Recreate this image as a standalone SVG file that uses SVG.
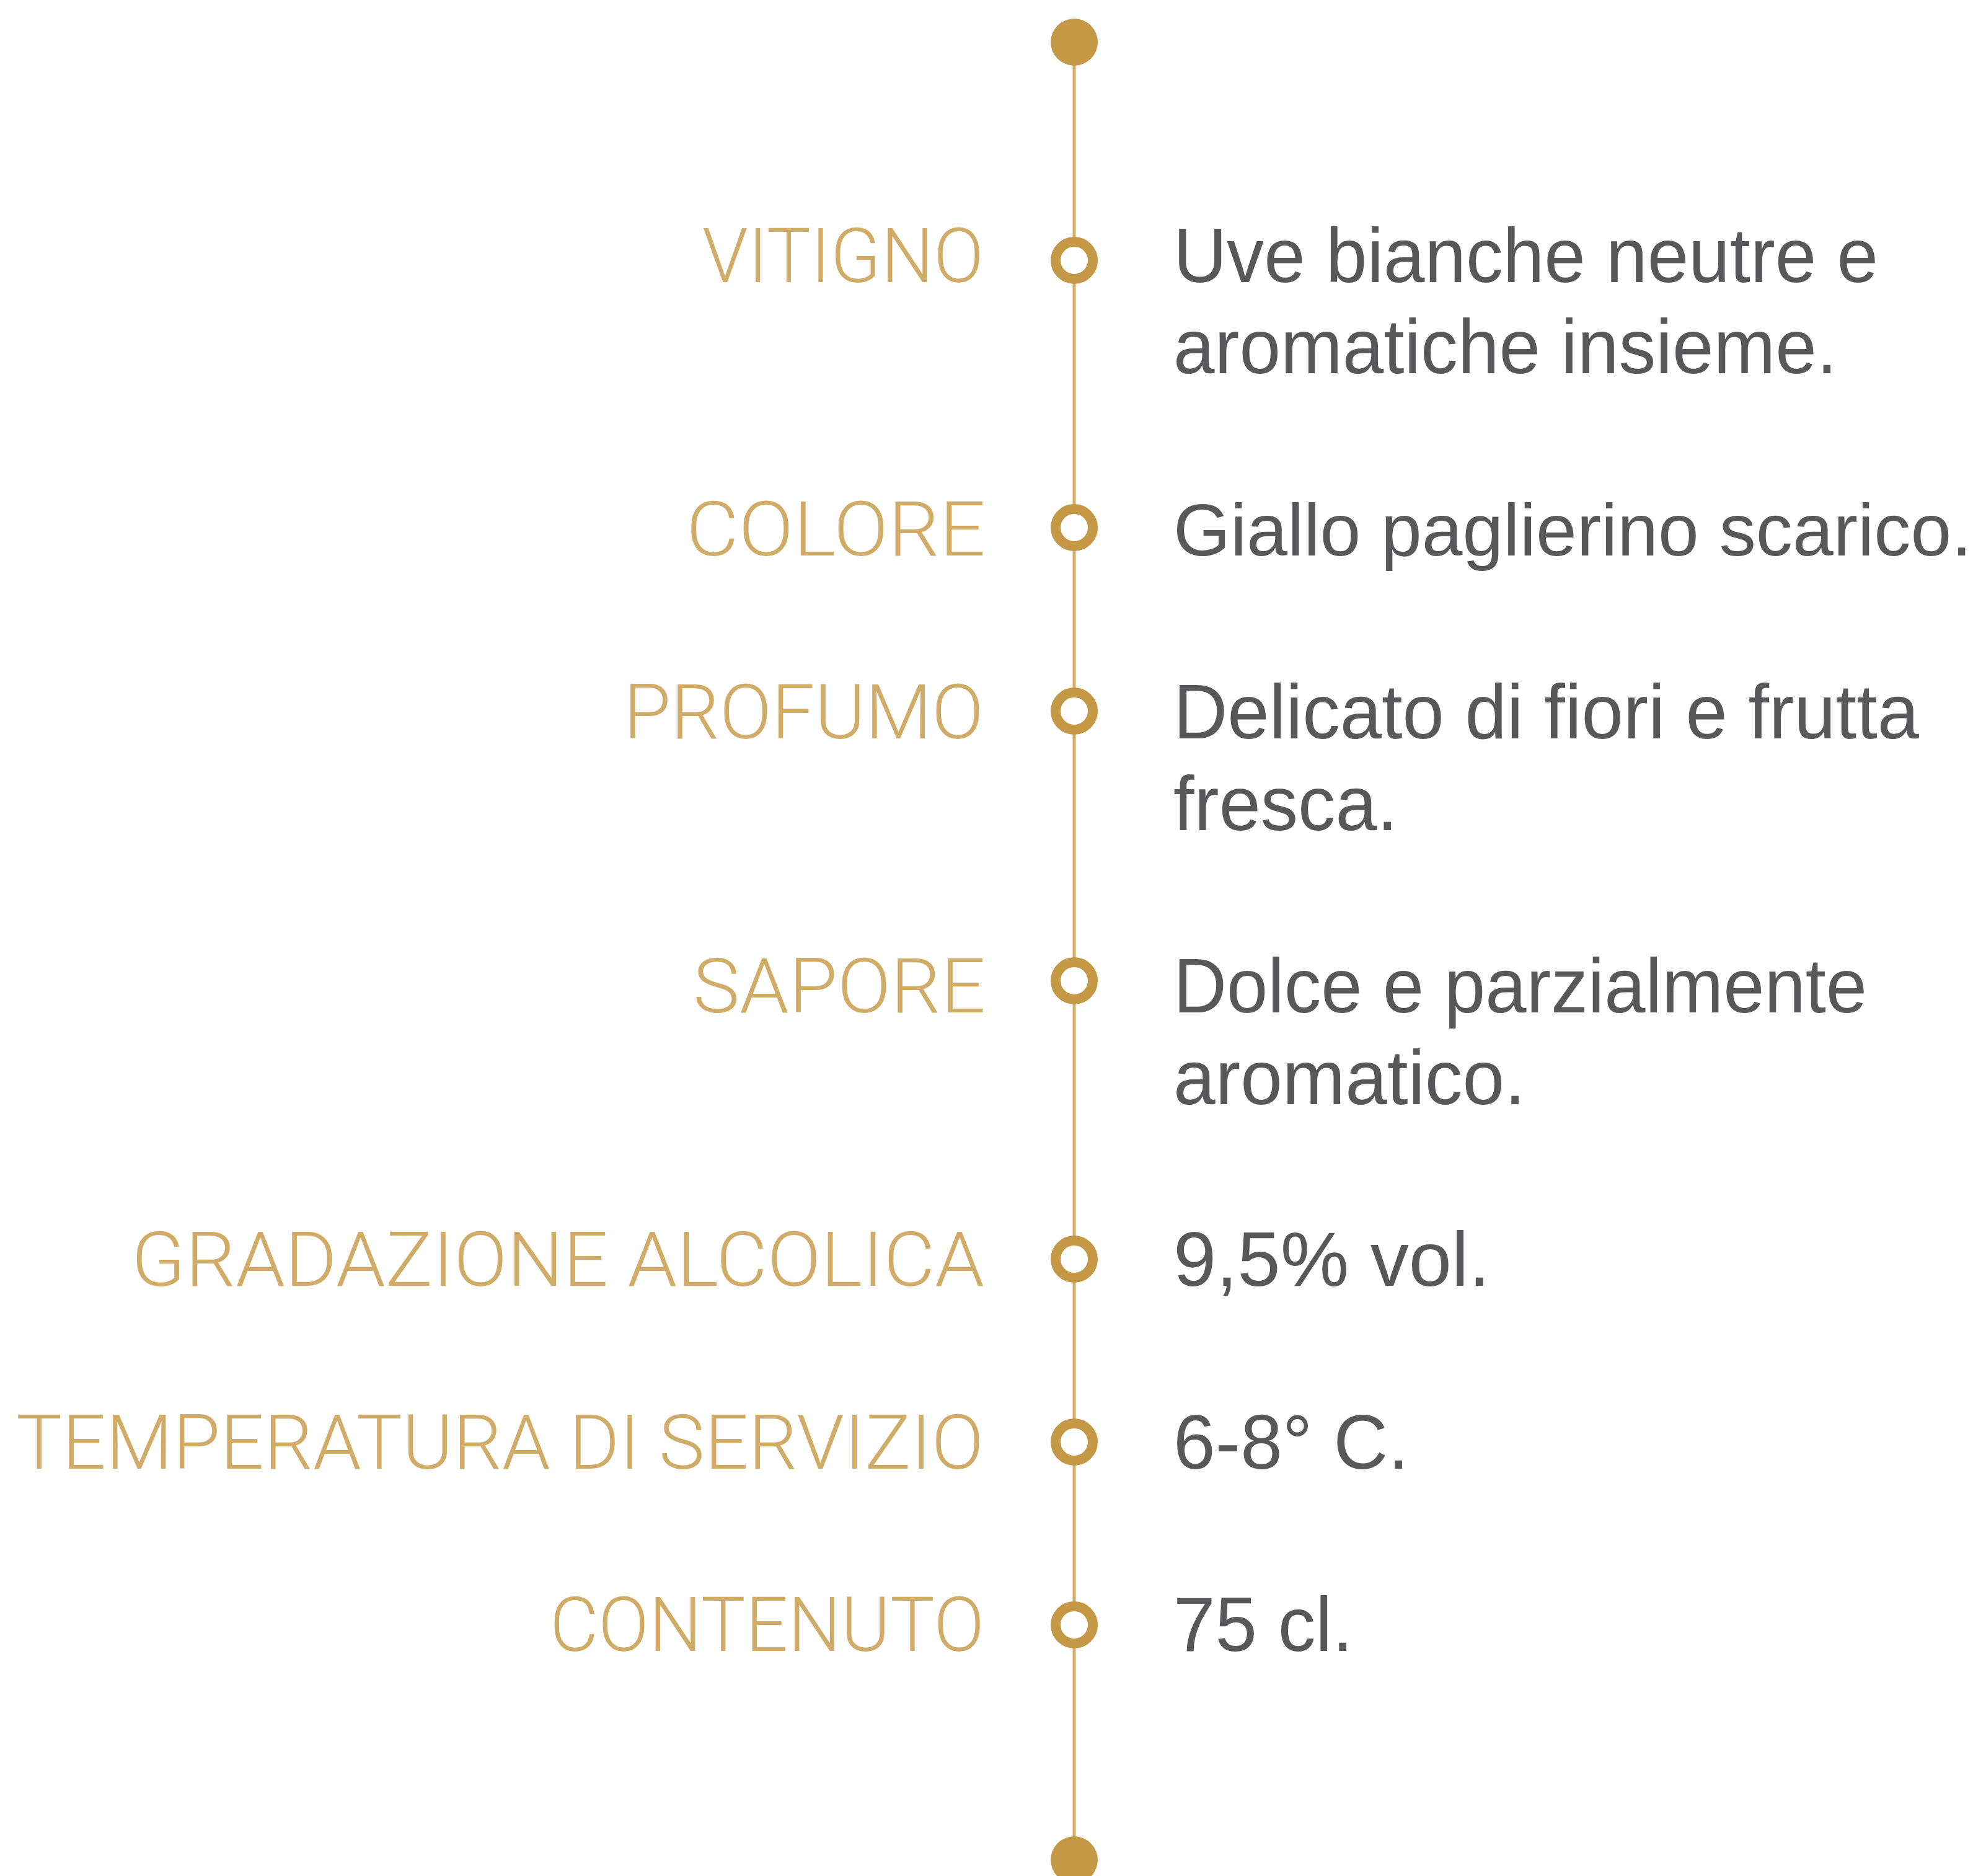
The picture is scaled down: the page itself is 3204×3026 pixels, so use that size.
<svg xmlns="http://www.w3.org/2000/svg" width="3204" height="3026" viewBox="0 0 3204 3026">
<style>
.lbl{font-family:"Roboto","Liberation Sans",Arial,sans-serif;font-weight:300;font-size:123px;fill:#D1AC68;}
.txt{font-family:"Liberation Sans",Arial,sans-serif;font-size:125px;fill:#58585A;}
.ring{fill:#FFFFFF;stroke:#C49844;stroke-width:16;}
.dot{fill:#C49844;}
.axis{stroke:#D3AF6A;stroke-width:5;fill:none;}
</style>
<rect width="3204" height="3026" fill="#FFFFFF"/>
<g id="connectors">
<line class="axis" x1="1733" y1="68" x2="1733" y2="3000"/>
</g>
<g id="top-dot"><circle class="dot" cx="1733" cy="68" r="38"/></g>
<g id="vitigno">
<text class="lbl" x="1133" y="455" textLength="454" lengthAdjust="spacingAndGlyphs">VITIGNO</text>
<circle class="ring" cx="1733" cy="420" r="30"/>
<text class="txt" x="1893" y="455" textLength="1137" lengthAdjust="spacingAndGlyphs">Uve bianche neutre e</text>
<text class="txt" x="1893" y="602" textLength="1071" lengthAdjust="spacingAndGlyphs">aromatiche insieme.</text>
</g>
<g id="colore">
<text class="lbl" x="1107" y="896" textLength="483" lengthAdjust="spacingAndGlyphs">COLORE</text>
<circle class="ring" cx="1733" cy="851" r="30"/>
<text class="txt" x="1893" y="896" style="font-size:119px" textLength="1288" lengthAdjust="spacingAndGlyphs">Giallo paglierino scarico.</text>
</g>
<g id="profumo">
<text class="lbl" x="1006" y="1191" textLength="581" lengthAdjust="spacingAndGlyphs">PROFUMO</text>
<circle class="ring" cx="1733" cy="1147" r="30"/>
<text class="txt" x="1893" y="1191" textLength="1203" lengthAdjust="spacingAndGlyphs">Delicato di fiori e frutta</text>
<text class="txt" x="1893" y="1339" textLength="362" lengthAdjust="spacingAndGlyphs">fresca.</text>
</g>
<g id="sapore">
<text class="lbl" x="1118" y="1633" textLength="472" lengthAdjust="spacingAndGlyphs">SAPORE</text>
<circle class="ring" cx="1733" cy="1582" r="30"/>
<text class="txt" x="1893" y="1633" textLength="1119" lengthAdjust="spacingAndGlyphs">Dolce e parzialmente</text>
<text class="txt" x="1893" y="1781" textLength="568" lengthAdjust="spacingAndGlyphs">aromatico.</text>
</g>
<g id="gradazione">
<text class="lbl" x="212" y="2074" textLength="1376" lengthAdjust="spacingAndGlyphs">GRADAZIONE ALCOLICA</text>
<circle class="ring" cx="1733" cy="2031" r="30"/>
<text class="txt" x="1893" y="2074" textLength="511" lengthAdjust="spacingAndGlyphs">9,5% vol.</text>
</g>
<g id="temperatura">
<text class="lbl" x="26" y="2369" textLength="1561" lengthAdjust="spacingAndGlyphs">TEMPERATURA DI SERVIZIO</text>
<circle class="ring" cx="1733" cy="2326" r="30"/>
<text class="txt" x="1893" y="2369" textLength="380" lengthAdjust="spacingAndGlyphs">6-8° C.</text>
</g>
<g id="contenuto">
<text class="lbl" x="887" y="2663" textLength="701" lengthAdjust="spacingAndGlyphs">CONTENUTO</text>
<circle class="ring" cx="1733" cy="2621" r="30"/>
<text class="txt" x="1893" y="2663" textLength="290" lengthAdjust="spacingAndGlyphs">75 cl.</text>
</g>
<g id="bottom-dot"><circle class="dot" cx="1733" cy="3000" r="38"/></g>
</svg>
